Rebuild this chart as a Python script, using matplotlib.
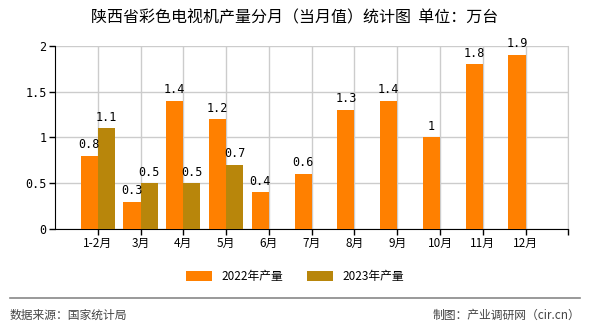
import numpy as np
import matplotlib.pyplot as plt
from matplotlib.lines import Line2D

plt.rcParams['font.family'] = ['Noto Sans CJK SC', 'DejaVu Sans']

months = ['1-2月', '3月', '4月', '5月', '6月', '7月', '8月', '9月', '10月', '11月', '12月']
prod_2022 = [0.8, 0.3, 1.4, 1.2, 0.4, 0.6, 1.3, 1.4, 1.0, 1.8, 1.9]
prod_2023 = [1.1, 0.5, 0.5, 0.7]
c22 = '#ff8000'
c23 = '#b8860b'

fig = plt.figure(figsize=(5.9, 3.3), dpi=100)
ax = fig.add_axes([0.0932, 0.306, 0.870, 0.555])

x = np.arange(1, len(months) + 1)
w = 0.4
ax.bar(x - w / 2, prod_2022, w, color=c22, label='2022年产量', zorder=3)
x23 = x[:len(prod_2023)]
ax.bar(x23 + w / 2, prod_2023, w, color=c23, label='2023年产量', zorder=3)

def fmt(v):
    return ('%g' % v)

for xi, v in zip(x, prod_2022):
    ax.text(xi - w / 2, v + 0.05, fmt(v), ha='center', va='bottom', fontsize=8.5,
            family=['DejaVu Sans Mono'], zorder=4)
for xi, v in zip(x23, prod_2023):
    ax.text(xi + w / 2, v + 0.05, fmt(v), ha='center', va='bottom', fontsize=8.5,
            family=['DejaVu Sans Mono'], zorder=4)

ax.set_xlim(0, 12)
ax.set_ylim(0, 2)
ax.set_xticks(list(x) + [12])
ax.set_xticklabels(months + [''], fontsize=8.5)
ax.set_yticks([0, 0.5, 1, 1.5, 2])
ax.set_yticklabels(['0', '0.5', '1', '1.5', '2'], fontsize=8.5, family=['DejaVu Sans Mono'])
ax.grid(True, color='#cccccc', linewidth=1, zorder=0)
ax.spines['top'].set_visible(False)
ax.spines['right'].set_color('#cccccc')
ax.spines['left'].set_color('black')
ax.spines['bottom'].set_color('black')
ax.tick_params(length=4, width=1, pad=2)

fig.text(0.5, 0.945, '陕西省彩色电视机产量分月（当月值）统计图  单位：万台',
         ha='center', va='center', fontsize=11.5)

fig.legend(loc='center', bbox_to_anchor=(0.5, 0.163), ncol=2, frameon=False,
           fontsize=8.5, handlelength=2.2, handleheight=0.9, columnspacing=2.0)

fig.add_artist(Line2D([0.017, 0.983], [0.098, 0.098], color='#888888', linewidth=1.2))
fig.text(0.017, 0.045, '数据来源：国家统计局', ha='left', va='center', fontsize=8.5, color='#444444')
fig.text(0.983, 0.045, '制图：产业调研网（cir.cn）', ha='right', va='center', fontsize=8.5, color='#444444')

fig.savefig('out.png', dpi=100)
